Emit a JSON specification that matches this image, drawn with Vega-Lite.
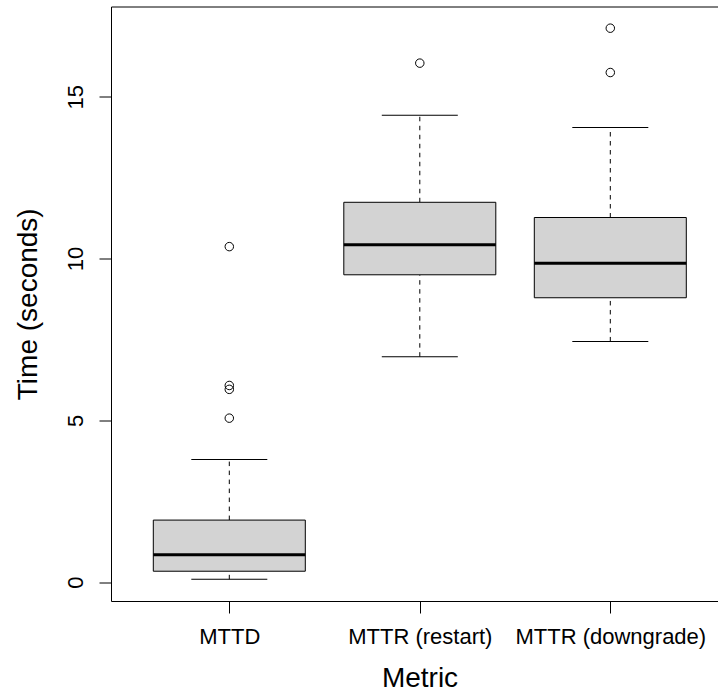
{
  "$schema": "https://vega.github.io/schema/vega-lite/v6.json",
  "autosize": {"type": "none"},
  "padding": {"left": 111, "top": 6.5, "right": 0, "bottom": 92},
  "width": 607,
  "height": 594.5,
  "background": "white",
  "config": {
    "font": "Liberation Sans",
    "view": {"stroke": "black", "strokeWidth": 1},
    "axis": {
      "grid": false,
      "domain": false,
      "tickColor": "black",
      "tickSize": 12,
      "tickWidth": 1,
      "labelColor": "black",
      "titleColor": "black",
      "labelFont": "Liberation Sans",
      "titleFont": "Liberation Sans",
      "titleFontWeight": "normal",
      "labelFontSize": 22,
      "titleFontSize": 28,
      "labelLimit": 0
    }
  },
  "datasets": {
    "stats": [
      {"metric": "MTTD", "lo": 0.09, "q1": 0.34, "med": 0.85, "q3": 1.92, "hi": 3.79},
      {"metric": "MTTR (restart)", "lo": 6.97, "q1": 9.5, "med": 10.43, "q3": 11.74, "hi": 14.43},
      {"metric": "MTTR (downgrade)", "lo": 7.44, "q1": 8.79, "med": 9.86, "q3": 11.27, "hi": 14.05}
    ],
    "outliers": [
      {"metric": "MTTD", "time": 5.07},
      {"metric": "MTTD", "time": 5.96},
      {"metric": "MTTD", "time": 6.08},
      {"metric": "MTTD", "time": 10.37},
      {"metric": "MTTR (restart)", "time": 16.04},
      {"metric": "MTTR (downgrade)", "time": 15.75},
      {"metric": "MTTR (downgrade)", "time": 17.12}
    ]
  },
  "encoding": {
    "x": {
      "field": "metric",
      "type": "nominal",
      "scale": {
        "type": "point",
        "domain": ["MTTD", "MTTR (restart)", "MTTR (downgrade)"],
        "range": [118.3, 499.3],
        "padding": 0
      },
      "axis": {
        "title": "Metric",
        "labelAngle": 0,
        "labelPadding": 13,
        "titlePadding": 17,
        "titleX": 308.5
      }
    }
  },
  "layer": [
    {
      "data": {"name": "stats"},
      "mark": {"type": "rule", "stroke": "black", "strokeWidth": 1, "strokeDash": [4.5, 4.5]},
      "encoding": {
        "y": {"field": "q3", "type": "quantitative"},
        "y2": {"field": "hi"}
      }
    },
    {
      "data": {"name": "stats"},
      "mark": {"type": "rule", "stroke": "black", "strokeWidth": 1, "strokeDash": [4.5, 4.5]},
      "encoding": {
        "y": {"field": "lo", "type": "quantitative"},
        "y2": {"field": "q1"}
      }
    },
    {
      "data": {"name": "stats"},
      "mark": {"type": "tick", "color": "black", "size": 76, "thickness": 1, "opacity": 1},
      "encoding": {"y": {"field": "hi", "type": "quantitative"}}
    },
    {
      "data": {"name": "stats"},
      "mark": {"type": "tick", "color": "black", "size": 76, "thickness": 1, "opacity": 1},
      "encoding": {"y": {"field": "lo", "type": "quantitative"}}
    },
    {
      "data": {"name": "stats"},
      "mark": {"type": "bar", "width": 152, "fill": "#D3D3D3", "stroke": "black", "strokeWidth": 1},
      "encoding": {
        "y": {
          "field": "q1",
          "type": "quantitative",
          "scale": {"domain": [-0.58, 17.79], "nice": false, "zero": false},
          "axis": {
            "title": "Time (seconds)",
            "values": [0, 5, 10, 15],
            "labelAngle": -90,
            "labelAlign": "center",
            "labelBaseline": "bottom",
            "labelPadding": 12,
            "titlePadding": 22
          }
        },
        "y2": {"field": "q3"}
      }
    },
    {
      "data": {"name": "stats"},
      "mark": {"type": "tick", "color": "black", "size": 152, "thickness": 3, "opacity": 1},
      "encoding": {"y": {"field": "med", "type": "quantitative"}}
    },
    {
      "data": {"name": "outliers"},
      "mark": {"type": "point", "shape": "circle", "filled": false, "stroke": "black", "strokeWidth": 1, "size": 72, "opacity": 1},
      "encoding": {"y": {"field": "time", "type": "quantitative"}}
    }
  ]
}
